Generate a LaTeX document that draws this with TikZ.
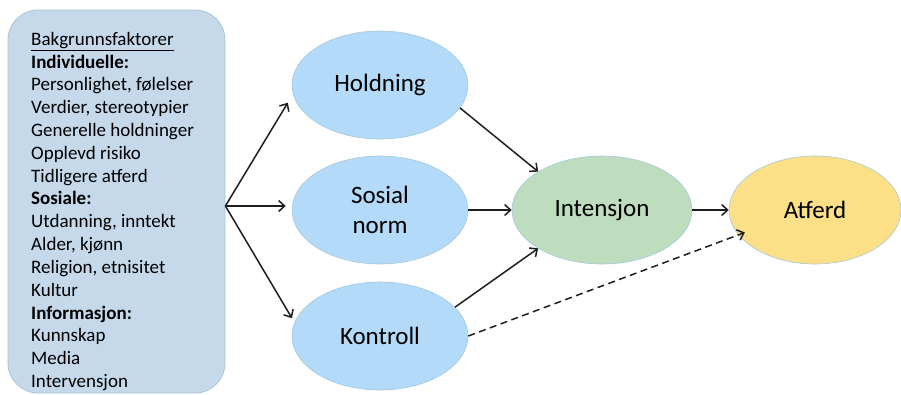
\documentclass[tikz,border=0pt]{standalone}
\usepackage{fontspec}
\setmainfont{Carlito}
\usetikzlibrary{shapes.geometric,arrows.meta}
\definecolor{boxfill}{RGB}{197,217,234}
\definecolor{boxline}{RGB}{170,195,215}
\definecolor{bluefill}{RGB}{180,218,250}
\definecolor{greenfill}{RGB}{190,221,190}
\definecolor{yellowfill}{RGB}{252,224,136}
\definecolor{ellline}{RGB}{165,200,215}
\definecolor{arrowcol}{RGB}{30,30,30}
\tikzset{
  factorbox/.style={draw=boxline, fill=boxfill, line width=0.8pt, rounded corners=30pt,
    minimum width=217pt, minimum height=383pt, inner sep=0pt},
  factortext/.style={align=left, inner sep=0pt, font=\fontsize{19}{22.8}\selectfont},
  stage/.style={ellipse, draw=ellline, line width=0.6pt, inner sep=0pt,
    minimum width=176pt, minimum height=108pt, align=center,
    font=\fontsize{25}{30}\selectfont},
  link/.style={draw=arrowcol, line width=1.5pt, -{Straight Barb[length=6pt,width=11pt,line width=1.5pt]}},
  weaklink/.style={link, dashed, dash pattern=on 7pt off 4.5pt}
}
\begin{document}
\begin{tikzpicture}[x=1pt,y=-1pt]
  \useasboundingbox (0,0) rectangle (901,394);
  \clip (0,0) rectangle (901,394);

  % background factors
  \node[factorbox] (bg) at (116.5,201.5) {};
  \node[factortext, anchor=north west] (bgtext) at (31,32) {%
    \underline{Bakgrunnsfaktorer}\\
    \textbf{Individuelle:}\\
    Personlighet, følelser\\
    Verdier, stereotypier\\
    Generelle holdninger\\
    Opplevd risiko\\
    Tidligere atferd\\
    \textbf{Sosiale:}\\
    Utdanning, inntekt\\
    Alder, kjønn\\
    Religion, etnisitet\\
    Kultur\\
    \textbf{Informasjon:}\\
    Kunnskap\\
    Media\\
    Intervensjon};
  \coordinate (fan) at (bg.east |- 0,206);

  % model stages
  \node[stage, fill=bluefill] (hold) at (380,85) {Holdning};
  \node[stage, fill=bluefill] (norm) at (380,210) {Sosial\\norm};
  \node[stage, fill=bluefill] (kon) at (380,336) {Kontroll};
  \node[stage, fill=greenfill, minimum width=180pt] (int) at (602,210) {Intensjon};
  \node[stage, fill=yellowfill, minimum width=172pt] (atf) at (815,210) {Atferd};

  % connectors
  \draw[link, shorten >=10pt] (fan) -- (hold.186);
  \draw[link, shorten >=6pt] (fan) -- (fan -| norm.west);
  \draw[link, shorten >=5pt] (fan) -- (kon.171);
  \draw[link] (hold.-16) -- (int.149);
  \draw[link] (norm) -- (int);
  \draw[link] (kon.21) -- (int.-149);
  \draw[link] (int) -- (atf);
  \draw[weaklink, shorten >=-7pt] (kon.0) -- (atf.198);
\end{tikzpicture}
\end{document}
